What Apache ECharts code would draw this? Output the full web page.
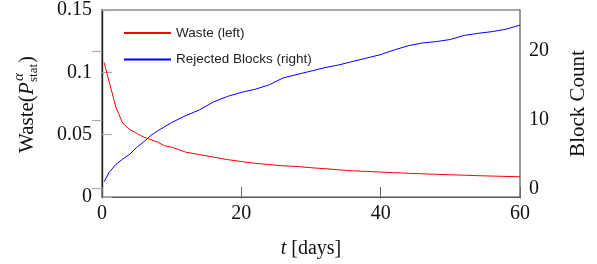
<!DOCTYPE html>
<html>
<head>
<meta charset="utf-8">
<script src="https://cdn.jsdelivr.net/npm/echarts@6/dist/echarts.min.js"></script>
<style>
  html, body { margin: 0; padding: 0; background: #fff; }
  #chart { width: 597px; height: 264px; }
</style>
</head>
<body>
<div id="chart"></div>
<script>
// values
const days = [0.3, 1, 2, 3, 4, 5, 6, 7, 8, 9, 10, 12, 14, 16, 18, 20, 22, 24, 26, 28, 30,
  32, 34, 36, 38, 40, 42, 44, 46, 48, 50, 52, 54, 56, 58, 60]
const waste = [0.108, 0.093, 0.072, 0.059, 0.054, 0.051, 0.048, 0.046, 0.044, 0.041, 0.040,
  0.036, 0.034, 0.032, 0.030, 0.0285, 0.027, 0.026, 0.025, 0.0245, 0.0235, 0.0227, 0.0218,
  0.021, 0.0205, 0.020, 0.0195, 0.019, 0.0186, 0.0182, 0.0178, 0.0175, 0.0171, 0.0168, 0.0165, 0.0162]
const rejected = [0.96, 2.3, 3.5, 4.3, 5.0, 6.0, 6.8, 7.7, 8.4, 9.0, 9.6, 10.6, 11.45, 12.6,
  13.4, 14.0, 14.45, 15.1, 16.1, 16.6, 17.1, 17.6, 18.0, 18.5, 19.0, 19.5, 20.2, 20.8, 21.2,
  21.4, 21.7, 22.3, 22.6, 22.85, 23.2, 23.8]
const rightTicks = [0, 10, 20]
const seriesNames = ['Waste (left)', 'Rejected Blocks (right)']

const serif = 'Liberation Serif'
const chart = echarts.init(document.getElementById('chart'))

const option = {
  animation: false,
  grid: {
    left: 102, right: 75, top: 9, bottom: 67,
    show: true, borderColor: '#555', borderWidth: 1.2
  },
  legend: {
    orient: 'vertical',
    left: 123, top: 26, padding: 0,
    itemWidth: 47, itemHeight: 14, itemGap: 12.5,
    itemStyle: { opacity: 0 },
    textStyle: { fontFamily: 'Liberation Sans', fontSize: 13.5, color: '#222' },
    data: seriesNames
  },
  xAxis: [{
    type: 'value', min: 0, max: 60, interval: 20,
    name: '{i|t} [days]', nameLocation: 'middle', nameGap: 42,
    nameTextStyle: {
      fontFamily: serif, fontSize: 20, color: '#111',
      rich: { i: { fontFamily: serif, fontSize: 20, fontStyle: 'italic', color: '#111' } }
    },
    axisLine: { lineStyle: { color: '#555', width: 1.2 } },
    axisTick: { inside: true, length: 10, lineStyle: { color: '#666' } },
    axisLabel: { fontFamily: serif, fontSize: 20, color: '#111', margin: 7 },
    splitLine: { show: false }
  }, {
    type: 'value', min: 0, max: 60, interval: 20, position: 'top',
    axisLine: { show: false },
    axisTick: { inside: true, length: 10, lineStyle: { color: '#666' } },
    axisLabel: { show: false },
    splitLine: { show: false }
  }],
  yAxis: [{
    type: 'value', min: 0, max: 0.15, interval: 0.05,
    axisLine: { show: true, lineStyle: { color: '#222', width: 1.2 } },
    axisTick: { inside: true, length: 10, lineStyle: { color: '#aaa', width: 1.2 } },
    axisLabel: { fontFamily: serif, fontSize: 20, color: '#111', margin: 10 },
    splitLine: { show: false }
  }, {
    type: 'value', min: -1.25, max: 26, position: 'right',
    name: 'Block Count', nameLocation: 'middle', nameRotate: 90, nameGap: 48,
    nameTextStyle: { fontFamily: serif, fontSize: 21, color: '#111' },
    axisLine: { show: true, lineStyle: { color: '#222', width: 1.2 } },
    axisTick: { inside: true, length: 10, customValues: rightTicks, lineStyle: { color: '#aaa', width: 1.2 } },
    axisLabel: { fontFamily: serif, fontSize: 20, color: '#111', margin: 9, customValues: rightTicks },
    splitLine: { show: false }
  }],
  graphic: [{
    type: 'group',
    x: 27, y: 153,
    rotation: Math.PI / 2,
    children: [
      { type: 'text', x: 0, y: 0, style: { text: 'Waste(', font: '21px "Liberation Serif"', fill: '#111', verticalAlign: 'middle' } },
      { type: 'text', x: 58, y: 0, style: { text: 'P', font: 'italic 21px "Liberation Serif"', fill: '#111', verticalAlign: 'middle' } },
      { type: 'text', x: 72, y: -8, style: { text: 'α', font: 'italic 15px "Liberation Serif"', fill: '#111', verticalAlign: 'middle' } },
      { type: 'text', x: 71, y: 7, style: { text: 'stat', font: '13px "Liberation Serif"', fill: '#111', verticalAlign: 'middle' } },
      { type: 'text', x: 90, y: 0, style: { text: ')', font: '21px "Liberation Serif"', fill: '#111', verticalAlign: 'middle' } }
    ]
  }],
  series: [{
    name: seriesNames[0],
    type: 'line',
    symbol: 'none',
    xAxisIndex: 0, yAxisIndex: 0,
    lineStyle: { color: '#ff0000', width: 1 },
    itemStyle: { color: '#ff0000' },
    data: days.map((d, i) => [d, waste[i]])
  }, {
    name: seriesNames[1],
    type: 'line',
    symbol: 'none',
    xAxisIndex: 0, yAxisIndex: 1,
    lineStyle: { color: '#0000ff', width: 1 },
    itemStyle: { color: '#0000ff' },
    data: days.map((d, i) => [d, rejected[i]])
  }]
}

chart.setOption(option)
</script>
</body>
</html>
